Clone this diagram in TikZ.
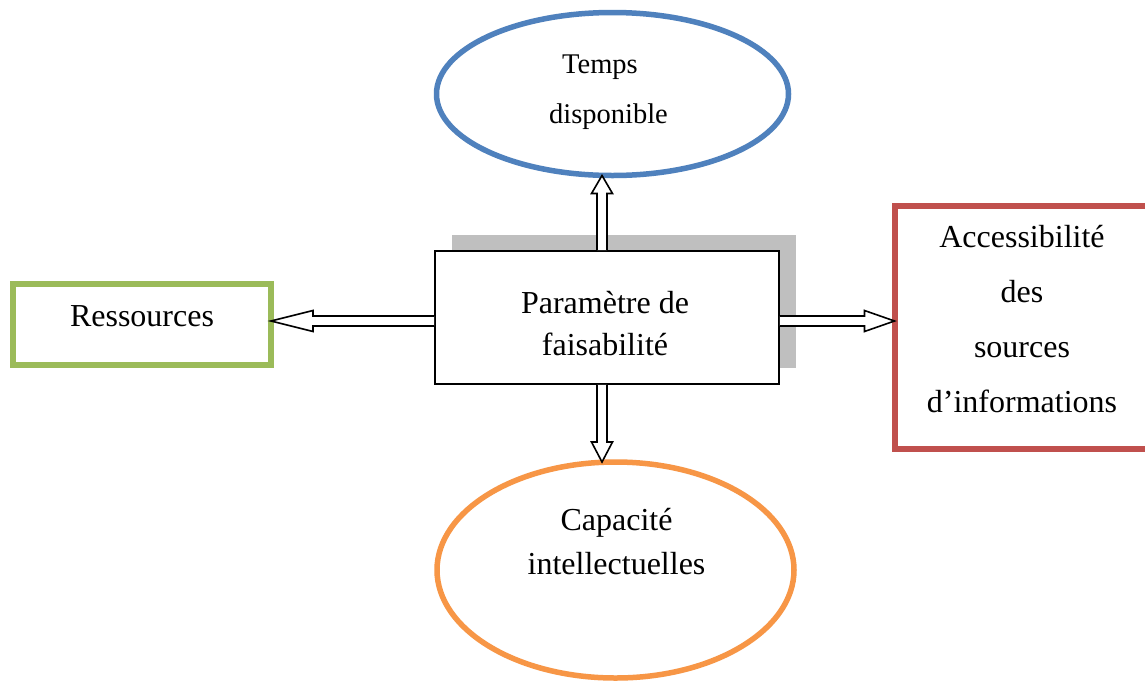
\documentclass[tikz,border=0pt]{standalone}
\usepackage{fontspec}
\setmainfont{Liberation Serif}
\usetikzlibrary{calc,shadows,shapes.geometric}

\definecolor{cblue}{HTML}{4F81BD}
\definecolor{cgreen}{HTML}{9BBB59}
\definecolor{cred}{HTML}{C0504D}
\definecolor{corange}{HTML}{F79646}

% hollow block arrow from #1 to #2 with a head of length #3
\newcommand\blockarrow[3]{%
  \path (#2) coordinate (ba-tip) ($(#2)!#3!(#1)$) coordinate (ba-h);
  \draw[blockarrow]
    ($(#1)!5pt!90:(#2)$) -- ($(ba-h)!5pt!90:(ba-tip)$)
    -- ($(ba-h)!10.5pt!90:(ba-tip)$) -- (ba-tip)
    -- ($(ba-h)!10.5pt!-90:(ba-tip)$) -- ($(ba-h)!5pt!-90:(ba-tip)$)
    -- ($(#1)!5pt!-90:(#2)$);
}

\begin{document}
\begin{tikzpicture}[x=1pt,y=-1pt,
  oval/.style={shape=ellipse, draw=#1, line width=5.5pt, inner sep=0pt, outer sep=0pt},
  frame/.style={rectangle, draw=#1, line width=6pt, inner sep=0pt, outer sep=0pt},
  hub/.style={rectangle, draw=black, line width=1.6pt, fill=white, inner sep=0pt,
    general shadow={fill=black!25, shadow xshift=16.5pt, shadow yshift=16pt}},
  lbl/.style={align=center, inner sep=0pt, anchor=base,
    font=\fontsize{32}{#1}\selectfont},
  blockarrow/.style={draw=black, line width=1.6pt, fill=white, line join=miter},
]
\useasboundingbox (0,0) rectangle (1145,681);
\fill[white] (0,0) rectangle (1145,681);

% shapes
\node[oval=cblue, minimum width=352pt, minimum height=163pt] (temps) at (612.5,94) {};
\node[oval=corange, minimum width=357pt, minimum height=216pt] (capa) at (615.5,570) {};
\node[frame=cgreen, minimum width=258pt, minimum height=80.5pt] (res) at (142,324.25) {};
\node[frame=cred, minimum width=255.5pt, minimum height=242.5pt] (acc) at (1022.25,327.25) {};
\node[hub, minimum width=344pt, minimum height=133pt] (param) at (607,317.5) {};

% labels (anchored on the baseline of their last line)
\node[lbl=50, font=\fontsize{28.5}{50}\selectfont] (t-temps) at (608.5,123) {Temps\hspace*{17pt}\\disponible};
\node[lbl=42] (t-param) at (605,355) {Paramètre de\\faisabilité};
\node[lbl=44] (t-capa) at (616.5,574) {Capacité\\intellectuelles};
\node[lbl=40] (t-res) at (142,326) {Ressources};
\node[lbl=54.7] (t-acc) at (1022,412) {Accessibilité\\des\\sources\\d’informations};

% connectors
\coordinate (ax) at (602,0);
\coordinate (ay) at (0,321);
\blockarrow{param.north -| ax}{temps.south -| ax}{18pt}
\blockarrow{param.south -| ax}{capa.north -| ax}{20pt}
\blockarrow{param.west |- ay}{res.east |- ay}{42pt}
\blockarrow{param.east |- ay}{acc.west |- ay}{30pt}
\end{tikzpicture}
\end{document}
